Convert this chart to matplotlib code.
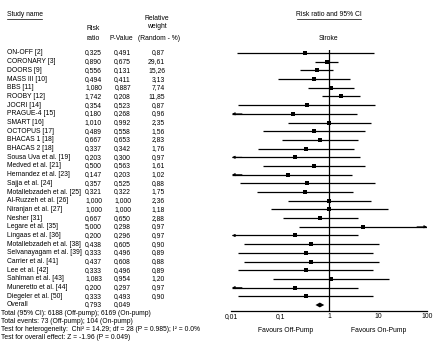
import matplotlib
matplotlib.use("Agg")
import matplotlib.pyplot as plt
from matplotlib.lines import Line2D

plt.rcParams['font.family'] = ['Liberation Sans', 'DejaVu Sans']

# Study table
studies = ["ON-OFF [2]", "CORONARY [3]", "DOORS [9]", "MASS III [10]", "BBS [11]", "ROOBY [12]",
           "JOCRI [14]", "PRAGUE-4 [15]", "SMART [16]", "OCTOPUS [17]", "BHACAS 1 [18]", "BHACAS 2 [18]",
           "Sousa Uva et al. [19]", "Medved et al. [21]", "Hernandez et al. [23]", "Sajja et al. [24]",
           "Motallebzadeh et al. [25]", "Al-Ruzzeh et al. [26]", "Niranjan et al. [27]", "Nesher [31]",
           "Legare et al. [35]", "Lingaas et al. [36]", "Motallebzadeh et al. [38]",
           "Selvanayagam et al. [39]", "Carrier et al. [41]", "Lee et al. [42]", "Sahlman et al. [43]",
           "Muneretto et al. [44]", "Diegeler et al. [50]"]
risk_ratio = [0.325, 0.890, 0.556, 0.494, 1.080, 1.742, 0.354, 0.180, 1.010, 0.489, 0.667, 0.337,
              0.203, 0.500, 0.147, 0.357, 0.321, 1.000, 1.000, 0.667, 5.000, 0.200, 0.438, 0.333,
              0.437, 0.333, 1.083, 0.200, 0.333]
p_value = [0.491, 0.675, 0.131, 0.411, 0.887, 0.208, 0.523, 0.268, 0.992, 0.558, 0.653, 0.342,
           0.300, 0.563, 0.203, 0.525, 0.322, 1.000, 1.000, 0.650, 0.298, 0.296, 0.605, 0.496,
           0.608, 0.496, 0.954, 0.297, 0.493]
weight = [0.87, 29.61, 15.26, 3.13, 7.74, 11.85, 0.87, 0.96, 2.35, 1.56, 2.83, 1.76, 0.97, 1.61,
          1.02, 0.88, 1.75, 2.36, 1.18, 2.88, 0.97, 0.97, 0.90, 0.89, 0.88, 0.89, 1.20, 0.97, 0.90]
ci_low = [0.013, 0.52, 0.26, 0.091, 0.37, 0.72, 0.014, 0.005, 0.146, 0.045, 0.11, 0.035,
          0.005, 0.045, 0.005, 0.015, 0.034, 0.146, 0.066, 0.115, 0.24, 0.005, 0.018, 0.014,
          0.018, 0.014, 0.072, 0.005, 0.014]
ci_high = [8.3, 1.53, 1.21, 2.7, 3.2, 4.3, 8.7, 3.7, 7.2, 5.4, 3.9, 3.2, 4.3, 5.4, 2.9, 8.7, 3.1,
           7.2, 16.0, 3.9, 200.0, 3.9, 10.5, 7.9, 10.5, 7.9, 16.5, 3.9, 7.8]

overall_rr = 0.793
overall_p = 0.049
overall_diamond = [0.53, 0.65, 0.80]  # low, centre, high as drawn

tick_values = [0.01, 0.1, 1, 10, 100]
tick_labels = ["0,01", "0,1", "1", "10", "100"]

footer = ["Total (95% CI): 6188 (Off-pump); 6169 (On-pump)",
          "Total events: 73 (Off-pump); 104 (On-pump)",
          "Test for heterogeneity:  Chi\u00b2 = 14.29; df = 28 (P = 0.985); I\u00b2 = 0.0%",
          "Test for overall effect: Z = -1.96 (P = 0.049)"]

W, H = 433, 342
fig = plt.figure(figsize=(W / 100, H / 100), dpi=100)
fs = 4.9

# axes spans pixels x 231..427, y 50..311
ax = fig.add_axes([231 / W, 1 - 311 / H, 196 / W, 261 / H])
ax.set_xscale("log")
ax.set_xlim(0.01, 100)
n = len(studies)
row_px = (305 - 53) / 29
top_row = -(53 - 50) / row_px
bot_row = 29 + (311 - 305) / row_px
ax.set_ylim(bot_row, top_row)

for s in ["top", "right", "left"]:
    ax.spines[s].set_visible(False)
ax.spines["bottom"].set_linewidth(0.9)
ax.set_yticks([])
ax.set_xticks(tick_values)
ax.set_xticklabels(tick_labels, fontsize=fs)
ax.minorticks_off()
ax.tick_params(axis="x", length=0, pad=1.5)

ax.axvline(1, color="black", lw=0.9)

xmin, xmax = 0.0105, 100
for i in range(n):
    lo, hi = ci_low[i], ci_high[i]
    l = max(lo, xmin)
    h = min(hi, xmax)
    ax.plot([l, h], [i, i], color="black", lw=0.9, solid_capstyle="butt")
    # CI running past the axis gets an arrow
    if lo < xmin:
        ax.annotate("", xy=(xmin, i), xytext=(xmin * 1.6, i),
                    arrowprops=dict(arrowstyle="-|>", lw=0.6, mutation_scale=4, color="black",
                                    shrinkA=0, shrinkB=0))
    if hi > xmax:
        ax.annotate("", xy=(xmax, i), xytext=(xmax / 1.6, i),
                    arrowprops=dict(arrowstyle="-|>", lw=0.6, mutation_scale=4, color="black",
                                    shrinkA=0, shrinkB=0))
    ax.plot(risk_ratio[i], i, marker="s", color="black", ms=3.0, mew=0)

d_lo, d_c, d_hi = overall_diamond
ax.fill([d_lo, d_c, d_hi, d_c], [n, n - 0.28, n, n + 0.28], color="black", lw=0)


def px(x, y):
    return x / W, 1 - y / H


# table rows
for i in range(n + 1):
    y = 53 + i * row_px
    if i < n:
        name, r, p, w = studies[i], risk_ratio[i], p_value[i], weight[i]
        fig.text(*px(165, y), f"{w:.2f}".replace(".", ","), fontsize=fs, ha="right", va="center")
    else:
        name, r, p = "Overall", overall_rr, overall_p
    fig.text(*px(7, y), name, fontsize=fs, ha="left", va="center")
    fig.text(*px(102, y), f"{r:.3f}".replace(".", ","), fontsize=fs, ha="right", va="center")
    fig.text(*px(131, y), f"{p:.3f}".replace(".", ","), fontsize=fs, ha="right", va="center")

# headers
fig.text(*px(7, 15), "Study name", fontsize=fs, ha="left", va="center")
fig.add_artist(Line2D([7 / W, 42 / W], [1 - 18.5 / H] * 2, color="black", lw=0.5))
fig.text(*px(93, 29), "Risk", fontsize=fs, ha="center", va="center")
fig.text(*px(93, 38), "ratio", fontsize=fs, ha="center", va="center")
fig.text(*px(121, 38), "P-Value", fontsize=fs, ha="center", va="center")
fig.text(*px(157, 19), "Relative", fontsize=fs, ha="center", va="center")
fig.text(*px(157, 27), "weight", fontsize=fs, ha="center", va="center")
fig.text(*px(159, 38), "(Random - %)", fontsize=fs, ha="center", va="center")

fig.text(*px(329, 15), "Risk ratio and 95% CI", fontsize=fs, ha="center", va="center")
fig.add_artist(Line2D([297 / W, 361 / W], [1 - 18.5 / H] * 2, color="black", lw=0.5))
fig.text(*px(328, 38), "Stroke", fontsize=fs, ha="center", va="center")

fig.text(*px(286, 331), "Favours Off-Pump", fontsize=fs, ha="center", va="center")
fig.text(*px(379, 331), "Favours On-Pump", fontsize=fs, ha="center", va="center")

for k, line in enumerate(footer):
    fig.text(*px(1, 313.5 + k * 8.0), line, fontsize=fs, ha="left", va="center")

fig.savefig("out.png", dpi=100, facecolor="white")
